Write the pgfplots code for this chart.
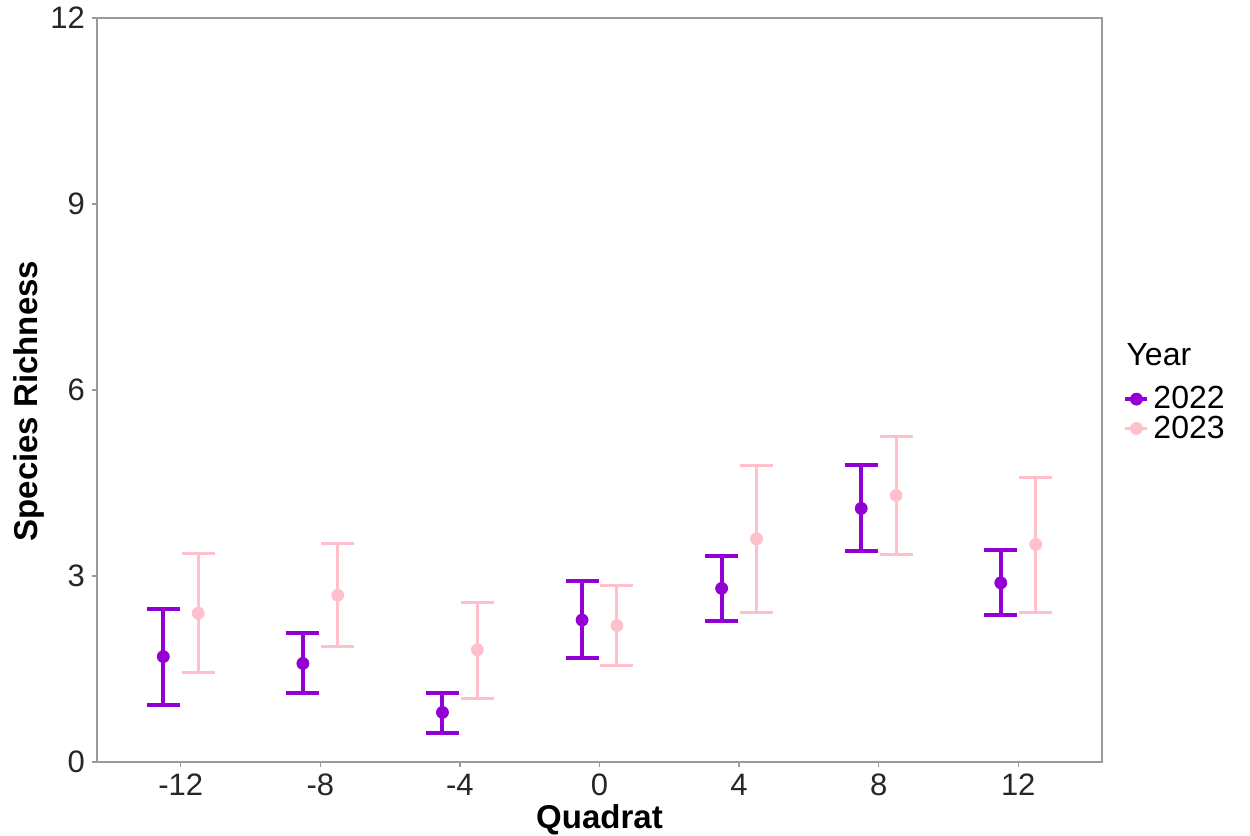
\documentclass[border=0pt]{standalone}
\usepackage{fontspec}
\setmainfont{Liberation Sans}
\usepackage{pgfplots}
\usepackage{pgfplotstable}
\pgfplotsset{compat=1.18}
\usetikzlibrary{calc}
\definecolor{yrA}{HTML}{9400D3}
\definecolor{yrB}{HTML}{FFC0CB}
\definecolor{framegray}{HTML}{9A9A9A}

% x = category index (0 = -12 ... 6 = 12), dodged by 0.125
\pgfplotstableread{
x      y    ep   em
-0.125 1.70 0.77 0.78
0.875  1.59 0.49 0.47
1.875  0.80 0.32 0.33
2.875  2.29 0.63 0.62
3.875  2.80 0.53 0.53
4.875  4.09 0.70 0.68
5.875  2.89 0.53 0.52
}\dataA

\pgfplotstableread{
x      y    ep   em
0.125  2.40 0.96 0.96
1.125  2.69 0.84 0.82
2.125  1.81 0.77 0.78
3.125  2.20 0.65 0.65
4.125  3.60 1.19 1.19
5.125  4.30 0.95 0.95
6.125  3.51 1.08 1.10
}\dataB

\begin{document}
\begin{tikzpicture}
\begin{axis}[
    name=ax,
    scale only axis,
    clip=false,
    width=502.5pt, height=372pt,
    xmin=-0.6, xmax=6.6,
    ymin=0, ymax=12,
    xtick={0,...,6},
    xticklabels={-12,-8,-4,0,4,8,12},
    ytick={0,3,6,9,12},
    tick align=outside, tick pos=left,
    major tick length=2.5pt,
    axis line style={framegray, line width=0.75pt},
    every tick/.style={framegray, line width=0.75pt},
    /pgf/number format/assume math mode=true,
    tick label style={font=\fontsize{15.5}{18}\selectfont, text=black!85},
    xlabel={\textbf{Quadrat}},
    ylabel={\textbf{Species Richness}},
    label style={font=\fontsize{16.5}{19}\selectfont},
    xlabel style={at={(axis description cs:0.5,-0.077)}, anchor=center},
    ylabel style={at={(axis description cs:-0.068,0.485)}, anchor=center},
    legend style={at={(axis description cs:1.015,0.468)}, anchor=west,
        draw=none, fill=none, font=\fontsize{16}{16}\selectfont,
        row sep=1pt, nodes={inner ysep=0.5pt}},
    legend cell align=left,
]

\addplot[only marks, mark=*, mark size=3pt, color=yrA,
    legend image code/.code={\draw[line width=2pt] (0pt,0pt) -- (11pt,0pt);
        \fill (5.5pt,0pt) circle (3pt);},
    error bars/.cd, y dir=both, y explicit,
    error bar style={line width=2pt, color=yrA},
    error mark options={rotate=90, mark size=8.25pt, line width=2pt, color=yrA}]
    table[x=x, y=y, y error plus=ep, y error minus=em] {\dataA};
\addlegendentry{2022}

\addplot[only marks, mark=*, mark size=3pt, color=yrB,
    legend image code/.code={\draw[line width=1.5pt] (0pt,0pt) -- (11pt,0pt);
        \fill (5.5pt,0pt) circle (3pt);},
    error bars/.cd, y dir=both, y explicit,
    error bar style={line width=1.5pt, color=yrB},
    error mark options={rotate=90, mark size=8.25pt, line width=1.5pt, color=yrB}]
    table[x=x, y=y, y error plus=ep, y error minus=em] {\dataB};
\addlegendentry{2023}

\node[anchor=west, inner sep=0pt, font=\fontsize{16}{16}\selectfont]
    at (axis description cs:1.024,0.547) {Year};
\end{axis}
\pgfresetboundingbox
\path ($(ax.south west)+(-48.5pt,-36.5pt)$) rectangle ($(ax.north east)+(74pt,9pt)$);
\end{tikzpicture}
\end{document}
